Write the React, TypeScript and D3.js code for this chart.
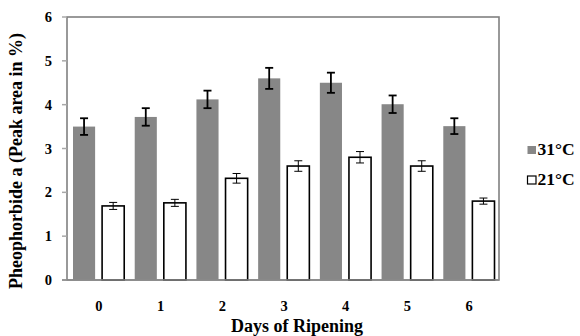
import * as d3 from "d3";
import React from "react";

const days = ["0", "1", "2", "3", "4", "5", "6"];
const series = ["31°C", "21°C"];
const values31 = [3.5, 3.72, 4.12, 4.6, 4.5, 4.01, 3.51];
const errors31 = [0.19, 0.2, 0.2, 0.24, 0.23, 0.2, 0.18];
const values21 = [1.69, 1.76, 2.32, 2.6, 2.8, 2.6, 1.8];
const errors21 = [0.08, 0.08, 0.11, 0.12, 0.13, 0.12, 0.07];
const yTicks = [0, 1, 2, 3, 4, 5, 6];

const width = 580;
const height = 336;
const margin = { top: 17, right: 81, bottom: 56, left: 67 };
const plotW = width - margin.left - margin.right;
const plotH = height - margin.top - margin.bottom;
const font = "'Liberation Serif', 'Times New Roman', serif";
const gray = "#878787";

export default function App() {
  const x = d3.scaleBand().domain(days).range([0, plotW]).padding(0);
  const sub = d3.scaleBand().domain(series).range([6, x.bandwidth() - 4.5]).paddingInner(0.24);
  const y = d3.scaleLinear().domain([0, 6]).range([plotH, 0]);

  const rows = days.map((d, i) => ({
    day: d,
    bars: [
      { s: series[0], v: values31[i], e: errors31[i] },
      { s: series[1], v: values21[i], e: errors21[i] },
    ],
  }));

  return (
    <svg
      width={width}
      height={height}
      style={{ position: "fixed", left: 0, top: 0, display: "block", background: "#fff" }}
      fontFamily={font}
      fontWeight="bold"
    >
      <g transform={`translate(${margin.left},${margin.top})`}>
        {/* plot area border */}
        <rect x={0} y={0} width={plotW} height={plotH} fill="none" stroke="#808080" strokeWidth={1.6} />

        {/* small y ticks */}
        {yTicks.map((t) => (
          <line key={"tk" + t} x1={-5} x2={0} y1={y(t)} y2={y(t)} stroke="#a8a8a8" strokeWidth={1.5} />
        ))}

        {rows.map((r) => (
          <g key={r.day} transform={`translate(${x(r.day)},0)`}>
            {r.bars.map((b) => {
              const bx = sub(b.s)!;
              const cx = bx + sub.bandwidth() / 2;
              const first = b.s === series[0];
              return (
                <g key={b.s}>
                  <rect
                    x={bx}
                    width={sub.bandwidth()}
                    y={y(b.v)}
                    height={y(0) - y(b.v)}
                    fill={first ? gray : "#fff"}
                    stroke={first ? "none" : "#000"}
                    strokeWidth={1.6}
                  />
                  <g stroke="#000" strokeWidth={first ? 1.8 : 1}>
                    <line x1={cx} x2={cx} y1={y(b.v + b.e)} y2={y(b.v - b.e)} />
                    <line x1={cx - 4} x2={cx + 4} y1={y(b.v + b.e)} y2={y(b.v + b.e)} />
                    <line x1={cx - 4} x2={cx + 4} y1={y(b.v - b.e)} y2={y(b.v - b.e)} />
                  </g>
                </g>
              );
            })}
          </g>
        ))}

        {/* baseline */}
        <line x1={-5} x2={plotW} y1={plotH} y2={plotH} stroke="#8a8a8a" strokeWidth={1.6} />

        {yTicks.map((t) => (
          <text key={"yl" + t} x={-15} y={y(t)} dy="0.35em" textAnchor="end" fontSize={14.5}>
            {t}
          </text>
        ))}

        {days.map((d) => (
          <text key={"xl" + d} x={x(d)! + x.bandwidth() / 2 + 1} y={plotH + 31} textAnchor="middle" fontSize={14.5}>
            {d}
          </text>
        ))}
      </g>

      <text x={297} y={332} textAnchor="middle" fontSize={18}>
        Days of Ripening
      </text>
      <text transform="translate(22,161) rotate(-90)" textAnchor="middle" fontSize={18}>
        Pheophorbide a (Peak area in %)
      </text>

      {series.map((s, i) => (
        <g key={s} transform={`translate(527,${145.5 + i * 30})`}>
          <rect
            x={0.5}
            y={0.5}
            width={8.5}
            height={8}
            fill={i === 0 ? gray : "#fff"}
            stroke={i === 0 ? "none" : "#000"}
            strokeWidth={1.2}
          />
          <text x={10.5} y={9.5} fontSize={17.5}>
            {s}
          </text>
        </g>
      ))}
    </svg>
  );
}
